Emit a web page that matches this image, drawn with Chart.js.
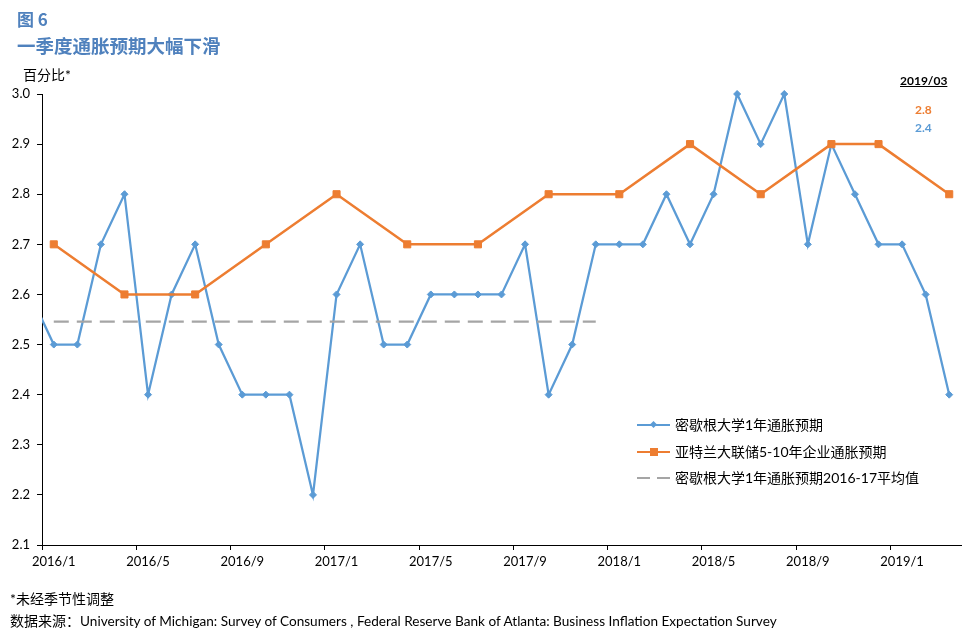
<!DOCTYPE html>
<html>
<head>
<meta charset="utf-8">
<script src="https://cdn.jsdelivr.net/npm/chart.js@4.4.1/dist/chart.umd.min.js"></script>
<style>
  body { margin: 0; background: #fff; font-family: Lato, "Noto Sans CJK SC", sans-serif; color: #000; }
  #page { position: relative; width: 976px; height: 637px; overflow: hidden; }
  #chart { position: absolute; left: 0; top: 0; }
  .t { position: absolute; white-space: nowrap; }
  .title { color: #4f81bd; font-weight: bold; font-family: "Noto Sans CJK SC", sans-serif; }
  .legRow { position: absolute; left: 637px; height: 20px; width: 320px; }
  .legRow span { position: absolute; left: 38px; top: -1px; font-size: 14px; font-family: Lato, "Noto Sans CJK SC", sans-serif; }
  .legLine { position: absolute; left: 0; top: 9px; width: 33px; height: 2px; }
  .legMark { position: absolute; }
</style>
</head>
<body>
<div id="page">
  <canvas id="chart" width="976" height="637"></canvas>

  <div class="t title" style="left:17px;top:6px;font-size:17px;">图 6</div>
  <div class="t title" style="left:17px;top:32px;font-size:18.5px;">一季度通胀预期大幅下滑</div>
  <div class="t" style="left:23px;top:64px;font-size:14px;">百分比*</div>

  <div class="t" style="left:900px;top:73px;font-size:12px;font-weight:bold;text-decoration:underline;">2019/03</div>
  <div class="t" style="left:915px;top:102px;font-size:12px;font-weight:bold;color:#ed7d31;">2.8</div>
  <div class="t" style="left:915px;top:120px;font-size:12px;font-weight:bold;color:#5b9bd5;">2.4</div>

  <div class="legRow" style="top:415px;">
    <div class="legLine" style="background:#5b9bd5;"></div>
    <div class="legMark" style="left:14px;top:7px;width:5px;height:5px;background:#5b9bd5;transform:rotate(45deg);"></div>
    <span>密歇根大学1年通胀预期</span>
  </div>
  <div class="legRow" style="top:442px;">
    <div class="legLine" style="background:#ed7d31;"></div>
    <div class="legMark" style="left:13px;top:6px;width:8px;height:8px;background:#ed7d31;"></div>
    <span>亚特兰大联储5-10年企业通胀预期</span>
  </div>
  <div class="legRow" style="top:468px;">
    <div class="legLine" style="background:#a5a5a5;width:13px;"></div>
    <div class="legLine" style="background:#a5a5a5;width:13px;left:20px;"></div>
    <span>密歇根大学1年通胀预期2016-17平均值</span>
  </div>

  <div class="t" style="left:10px;top:588px;font-size:14px;">*未经季节性调整</div>
  <div class="t" style="left:10px;top:610px;font-size:14px;">数据来源：<span style="font-size:13.6px;">University of Michigan: Survey of Consumers , Federal Reserve Bank of Atlanta: Business Inflation Expectation Survey</span></div>
</div>

<script>
// months on the category axis (2015/12 only feeds the clipped start of the line)
const months = [
  '2015/12',
  '2016/1','2016/2','2016/3','2016/4','2016/5','2016/6','2016/7','2016/8','2016/9','2016/10','2016/11','2016/12',
  '2017/1','2017/2','2017/3','2017/4','2017/5','2017/6','2017/7','2017/8','2017/9','2017/10','2017/11','2017/12',
  '2018/1','2018/2','2018/3','2018/4','2018/5','2018/6','2018/7','2018/8','2018/9','2018/10','2018/11','2018/12',
  '2019/1','2019/2','2019/3'
];
const tickMonths = ['2016/1','2016/5','2016/9','2017/1','2017/5','2017/9','2018/1','2018/5','2018/9','2019/1'];
const yTicks = [2.1, 2.2, 2.3, 2.4, 2.5, 2.6, 2.7, 2.8, 2.9, 3.0];

// Michigan 1-year expectation, one value per month
const michigan1y = [
  2.6,
  2.5, 2.5, 2.7, 2.8, 2.4, 2.6, 2.7, 2.5, 2.4, 2.4, 2.4, 2.2,
  2.6, 2.7, 2.5, 2.5, 2.6, 2.6, 2.6, 2.6, 2.7, 2.4, 2.5, 2.7,
  2.7, 2.7, 2.8, 2.7, 2.8, 3.0, 2.9, 3.0, 2.7, 2.9, 2.8, 2.7,
  2.7, 2.6, 2.4
];
// Atlanta Fed 5-10 year business expectation (survey months only)
const atlantaMonths = ['2016/1','2016/4','2016/7','2016/10','2017/1','2017/4','2017/7','2017/10',
  '2018/1','2018/4','2018/7','2018/10','2018/12','2019/3'];
const atlanta510 = [2.7, 2.6, 2.6, 2.7, 2.8, 2.7, 2.7, 2.8, 2.8, 2.9, 2.8, 2.9, 2.9, 2.8];
// 2016-17 average of the Michigan series
const avgMonths = ['2016/1', '2017/12'];
const avg1617 = [2.546, 2.546];

const idx = m => months.indexOf(m);
const blue = '#5b9bd5', orange = '#ed7d31', grey = '#a5a5a5';
const tickFont = { family: 'Lato, "Noto Sans CJK SC"', size: 13 };
const catW = 919 / 39;

new Chart(document.getElementById('chart'), {
  type: 'line',
  data: {
    datasets: [
      {
        label: '密歇根大学1年通胀预期',
        data: michigan1y.map((v, i) => ({ x: i, y: v })),
        borderColor: blue, backgroundColor: blue, borderWidth: 2.25,
        pointStyle: 'rectRot', pointRadius: ctx => ctx.dataIndex === 0 ? 0 : 3.5,
        pointBorderWidth: 1, tension: 0, order: 2,
        clip: { left: 0, top: 10, right: 10, bottom: 10 }
      },
      {
        label: '亚特兰大联储5-10年企业通胀预期',
        data: atlantaMonths.map((m, i) => ({ x: idx(m), y: atlanta510[i] })),
        borderColor: orange, backgroundColor: orange, borderWidth: 2.5,
        pointStyle: 'rect', pointRadius: 5, pointBorderWidth: 1, tension: 0, order: 1
      },
      {
        label: '密歇根大学1年通胀预期2016-17平均值',
        data: avgMonths.map((m, i) => ({ x: idx(m), y: avg1617[i] })),
        borderColor: grey, borderWidth: 2.25, borderDash: [15, 8],
        pointRadius: 0, tension: 0, order: 0
      }
    ]
  },
  options: {
    responsive: false,
    animation: false,
    events: [],
    devicePixelRatio: 1,
    layout: { padding: { top: 94, right: 15, bottom: 62, left: 0 } },
    plugins: { legend: { display: false }, tooltip: { enabled: false } },
    scales: {
      x: {
        type: 'linear', min: 0.5, max: 39.5,
        afterBuildTicks: s => { s.ticks = tickMonths.map(m => ({ value: idx(m) - 0.5 })); },
        afterFit: s => { s.height = 30; },
        ticks: {
          callback: v => months[Math.round(v + 0.5)],
          labelOffset: catW / 2, autoSkip: false, maxRotation: 0,
          color: '#000', font: tickFont, padding: 4
        },
        grid: { drawOnChartArea: false, drawTicks: true, tickLength: 5, color: '#000' },
        border: { color: '#000', width: 1 }
      },
      y: {
        min: 2.1, max: 3.0,
        afterBuildTicks: s => { s.ticks = yTicks.map(v => ({ value: v })); },
        afterFit: s => { s.width = 42; },
        ticks: { callback: v => v.toFixed(1), color: '#000', font: tickFont, padding: 7 },
        grid: { drawOnChartArea: false, drawTicks: true, tickLength: 5, color: '#000' },
        border: { color: '#000', width: 1 }
      }
    }
  }
});
</script>
</body>
</html>
